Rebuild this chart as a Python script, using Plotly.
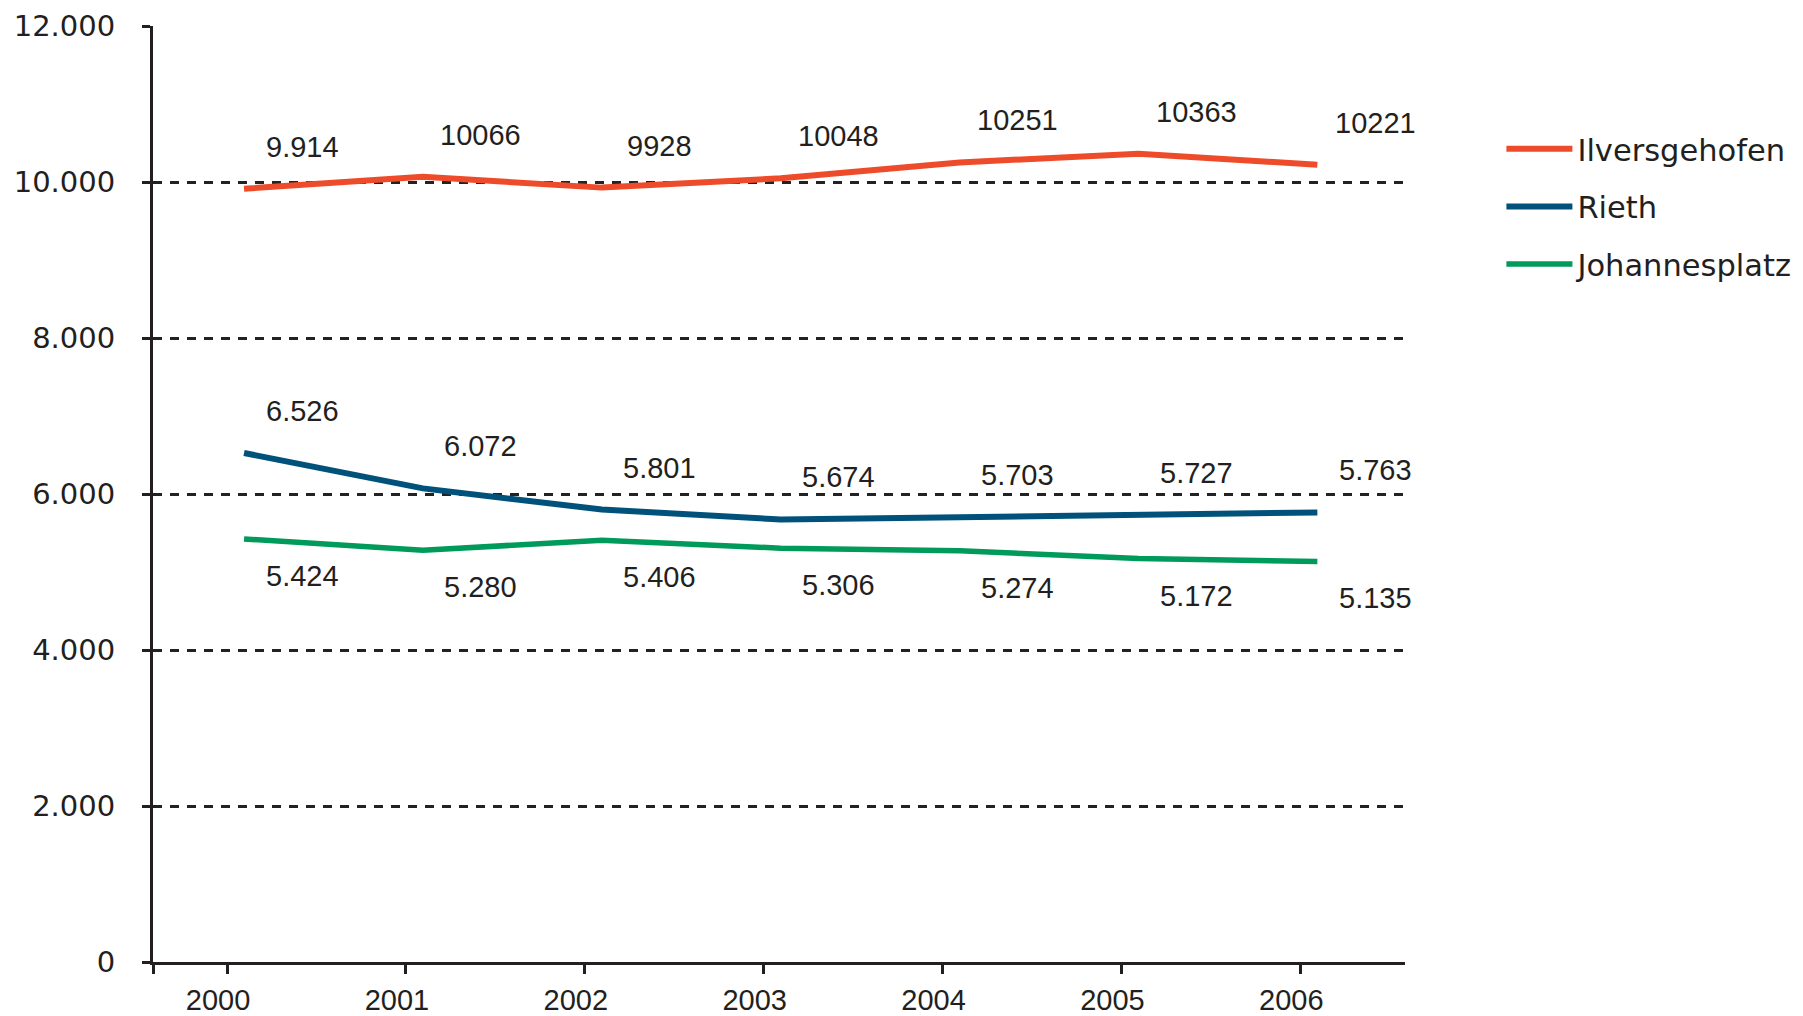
import plotly.graph_objects as go

years = [2000, 2001, 2002, 2003, 2004, 2005, 2006]
year_labels = ["2000", "2001", "2002", "2003", "2004", "2005", "2006"]

ilvers = [9914, 10066, 9928, 10048, 10251, 10363, 10221]
ilvers_text = ["9.914", "10066", "9928", "10048", "10251", "10363", "10221"]

rieth = [6526, 6072, 5801, 5674, 5703, 5727, 5763]
rieth_text = ["6.526", "6.072", "5.801", "5.674", "5.703", "5.727", "5.763"]

johannes = [5424, 5280, 5406, 5306, 5274, 5172, 5135]
johannes_text = ["5.424", "5.280", "5.406", "5.306", "5.274", "5.172", "5.135"]

y_ticks = [0, 2000, 4000, 6000, 8000, 10000, 12000]
y_tick_labels = ["0", "2.000", "4.000", "6.000", "8.000", "10.000", "12.000"]

series = [
    ("Ilversgehofen", ilvers, ilvers_text, "#EE4B2B", 6, "above"),
    ("Rieth", rieth, rieth_text, "#00527A", 6, "above"),
    ("Johannesplatz", johannes, johannes_text, "#009A5A", 5.5, "below"),
]

FONT = "Liberation Sans, Arial, sans-serif"
WIDE = "DejaVu Sans, Liberation Sans, sans-serif"
TXT = "#231f20"

fig = go.Figure()
annotations = []
for i, (name, vals, texts, color, w, pos) in enumerate(series):
    fig.add_trace(go.Scatter(
        x=years, y=vals, mode="lines", name=name,
        line=dict(color=color, width=w),
        legendgroup=name,
        hoverinfo="x+y",
    ))
    for xv, yv, t in zip(years, vals, texts):
        annotations.append(dict(
            x=xv, y=yv, xref="x", yref="y", text=t, showarrow=False,
            xshift=58, yshift=42 if pos == "above" else -37,
            font=dict(family=FONT, size=29, color=TXT),
        ))

x_min = years[0] - 0.509
x_max = years[-1] + 0.49
tick_offset = -0.095
x_tickvals = [x_min] + [y + tick_offset for y in years]
x_ticktext = [""] + year_labels

fig.update_layout(
    width=1803, height=1016,
    margin=dict(l=153, r=398, t=26, b=54, pad=0, autoexpand=False),
    paper_bgcolor="white", plot_bgcolor="white",
    showlegend=True,
    legend=dict(
        x=1.077, y=0.897, xanchor="left", yanchor="top",
        font=dict(family=WIDE, size=30.5, color=TXT),
        traceorder="grouped", tracegroupgap=15,
        itemwidth=66, bgcolor="rgba(0,0,0,0)",
    ),
    annotations=annotations,
    xaxis=dict(
        range=[x_min, x_max], tickmode="array",
        tickvals=x_tickvals, ticktext=x_ticktext,
        showgrid=False, zeroline=False, automargin=False,
        showline=True, linecolor=TXT, linewidth=3,
        ticks="outside", ticklen=9, tickwidth=3, tickcolor=TXT,
        tickfont=dict(family=FONT, size=29, color=TXT),
        ticklabelstandoff=1, ticklabelshift=-9,
    ),
    yaxis=dict(
        range=[0, 12000], tickmode="array",
        tickvals=y_ticks, ticktext=y_tick_labels,
        showgrid=True, gridcolor="#222222", gridwidth=2.5, griddash="9px,8px",
        zeroline=False, automargin=False,
        showline=True, linecolor=TXT, linewidth=3,
        ticks="outside", ticklen=8, tickwidth=3, tickcolor=TXT,
        tickfont=dict(family=WIDE, size=29, color=TXT),
        ticklabelstandoff=21,
    ),
)

fig.write_html("out.html", config={"displayModeBar": False},
               post_script="document.body.style.margin='0';document.body.style.overflow='hidden';")
